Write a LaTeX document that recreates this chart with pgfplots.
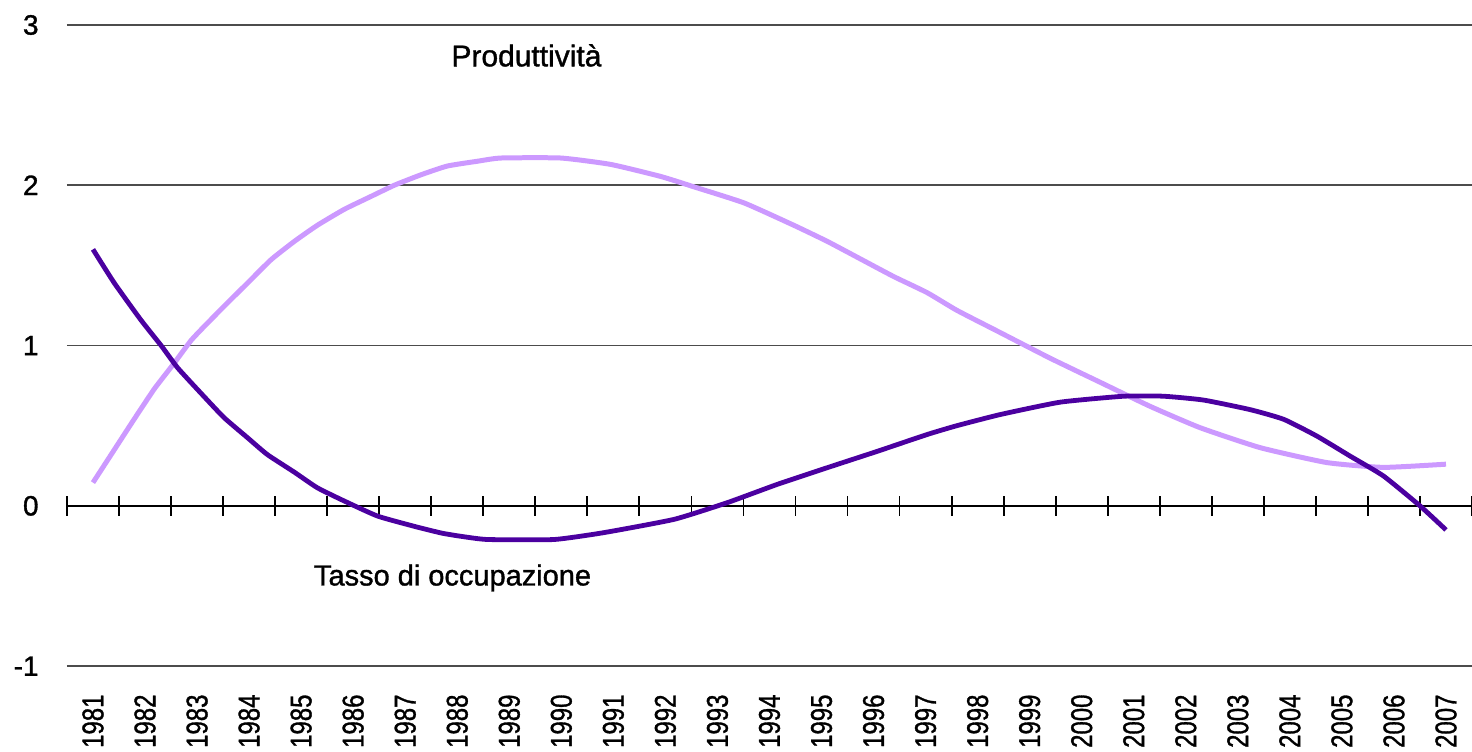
\documentclass[border=0pt]{standalone}
\usepackage{pgfplots}
\pgfplotsset{compat=1.18}
\usepackage{fontspec}
\setmainfont{Liberation Sans}[UprightFeatures={FakeBold=1.2}]
\definecolor{occ}{RGB}{75,0,160}
\definecolor{prod}{RGB}{204,153,255}
\begin{document}
\begin{tikzpicture}
% zero axis with category-boundary ticks
\begin{axis}[scale only axis, width=703pt, height=320.8pt,
  xmin=-0.5, xmax=26.5, ymin=-1, ymax=3,
  axis x line=middle, axis y line=none,
  axis line style={-, black, line width=0.9pt},
  xtick={-0.5,0.5,...,26.5}, xticklabels={},
  major tick length=10pt, tick align=center,
  tick style={black, line width=0.9pt}]
\end{axis}
\begin{axis}[name=ax, scale only axis, width=703pt, height=320.8pt,
  xmin=-0.5, xmax=26.5, ymin=-1, ymax=3,
  axis line style={draw=none}, major tick length=0pt,
  ytick={-1,1,2,3}, yticklabels={-1,1,2,3},
  extra y ticks={0}, extra y tick labels={0},
  extra y tick style={ymajorgrids=false},
  ymajorgrids, grid style={gray!60!black, line width=0.8pt},
  xtick={0,...,26},
  xticklabels={1981,1982,1983,1984,1985,1986,1987,1988,1989,1990,1991,1992,1993,1994,1995,1996,1997,1998,1999,2000,2001,2002,2003,2004,2005,2006,2007},
  xticklabel style={rotate=90, yscale=1.25, anchor=east, inner sep=0pt, font=\fontsize{12}{12}\selectfont},
  xticklabel shift=14pt,
  yticklabel style={anchor=east, inner sep=0pt, font=\fontsize{14}{14}\selectfont},
  yticklabel shift=14pt,
  clip=false]
\addplot[prod, line width=2.5pt, smooth, tension=0.3] coordinates {
(0,0.145) (0.41,0.35) (0.79,0.54) (1.18,0.73) (1.56,0.89) (1.88,1.03) (2.14,1.12)
(2.52,1.245) (2.97,1.39) (3.42,1.535) (3.87,1.65) (4.31,1.75) (4.83,1.85) (5.34,1.93)
(5.79,2.0) (6.30,2.065) (6.81,2.12) (7.39,2.15) (7.84,2.17) (8.99,2.17) (9.95,2.13)
(10.91,2.055) (11.55,1.99) (12.51,1.89) (13.47,1.75) (14.11,1.65) (14.75,1.54)
(15.39,1.43) (16.03,1.33) (16.6,1.22) (17.44,1.08) (18.40,0.92) (19.36,0.77)
(20.32,0.62) (21.28,0.487) (22.43,0.363) (23.71,0.27) (24.80,0.24) (26.0,0.26)};
\addplot[occ, line width=2.4pt, smooth, tension=0.3] coordinates {
(0,1.60) (0.41,1.39) (0.92,1.16) (1.31,1.0) (1.63,0.86) (2.14,0.68) (2.52,0.55)
(2.97,0.425) (3.35,0.32) (3.87,0.21) (4.31,0.113) (4.83,0.03) (5.47,-0.064)
(6.2,-0.13) (6.7,-0.17) (7.07,-0.19) (7.58,-0.21) (8.86,-0.21) (9.82,-0.167)
(11.17,-0.084) (12.19,0.02) (13.15,0.134) (14.11,0.238) (15.07,0.34) (16.03,0.445)
(16.6,0.5) (17.44,0.57) (18.59,0.647) (19.81,0.684) (20.57,0.684) (21.34,0.66)
(22.24,0.60) (22.88,0.54) (23.52,0.435) (24.16,0.31) (24.80,0.186) (25.50,0.0) (26.0,-0.15)};
\node[font=\fontsize{15}{15}\selectfont] at (axis cs:8.33,2.81) {Produttività};
\node[font=\fontsize{14.5}{14.5}\selectfont] at (axis cs:6.91,-0.45) {Tasso di occupazione};
\end{axis}
\pgfresetboundingbox
\path ([shift={(-33.5pt,-42.7pt)}]ax.south west) rectangle ([shift={(0pt,12.5pt)}]ax.north east);
\end{tikzpicture}
\end{document}
